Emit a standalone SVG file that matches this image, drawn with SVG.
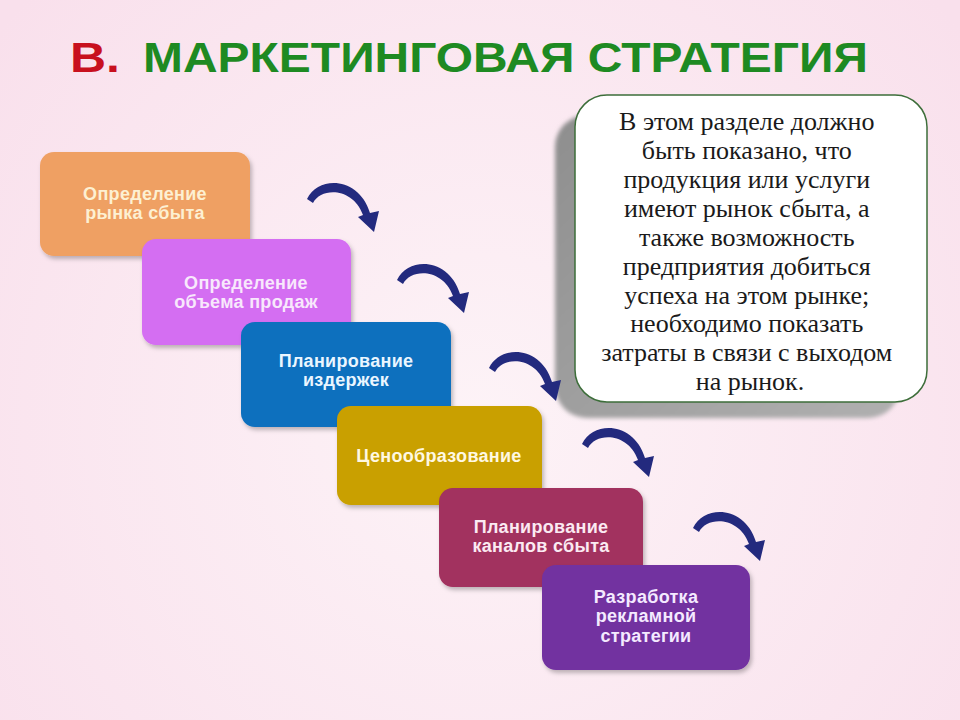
<svg xmlns="http://www.w3.org/2000/svg" width="960" height="720" viewBox="0 0 960 720">
<defs>
<radialGradient id="bg" cx="480" cy="420" r="620" gradientUnits="userSpaceOnUse">
<stop offset="0" stop-color="#fdf3f7"/>
<stop offset="1" stop-color="#f9e0ec"/>
</radialGradient>
<linearGradient id="shadowGrad" x1="0" y1="0" x2="1" y2="1">
<stop offset="0" stop-color="#8e8e8e"/>
<stop offset="1" stop-color="#b0b0b0"/>
</linearGradient>
<filter id="blur" x="-10%" y="-10%" width="120%" height="120%">
<feGaussianBlur stdDeviation="2"/>
</filter>
<filter id="drop" x="-10%" y="-10%" width="125%" height="130%">
<feDropShadow dx="2" dy="3" stdDeviation="2" flood-color="#000" flood-opacity="0.25"/>
</filter>
<path id="arrow" d="M0,0 C12,-24 52,-22 63,14 L72,12 L67,33 L51,18 L56,16 C46,-12 14,-12 6,4 Z"/>
</defs>
<style>
.box{filter:url(#drop);}
.lbl{font-family:"Liberation Sans",Arial,sans-serif;font-weight:bold;font-size:18px;text-anchor:middle;letter-spacing:0.3px;}
.note{font-family:"Liberation Serif","Times New Roman",serif;font-size:26px;text-anchor:middle;fill:#1a1a1a;}
.arr{fill:#232a7e;}
</style>
<rect width="960" height="720" fill="url(#bg)"/>

<g id="title" font-family="'Liberation Sans',Arial,sans-serif" font-weight="bold" font-size="42">
<text x="70" y="72" fill="#c8101e" textLength="50" lengthAdjust="spacingAndGlyphs">В.</text>
<text x="143" y="72" fill="#1e8a22" textLength="725" lengthAdjust="spacingAndGlyphs">МАРКЕТИНГОВАЯ СТРАТЕГИЯ</text>
</g>

<g id="note">
<rect x="555" y="115" width="345" height="303" rx="32" fill="url(#shadowGrad)" filter="url(#blur)"/>
<rect x="575" y="95" width="352" height="307" rx="32" fill="#ffffff" stroke="#3d6e3a" stroke-width="1.5"/>
<text class="note">
<tspan x="750" y="130">В этом разделе должно</tspan>
<tspan x="750" y="159">быть показано, что</tspan>
<tspan x="750" y="188">продукция или услуги</tspan>
<tspan x="750" y="217">имеют рынок сбыта, а</tspan>
<tspan x="750" y="246">также возможность</tspan>
<tspan x="750" y="275">предприятия добиться</tspan>
<tspan x="750" y="304">успеха на этом рынке;</tspan>
<tspan x="750" y="332">необходимо показать</tspan>
<tspan x="750" y="361">затраты в связи с выходом</tspan>
<tspan x="750" y="390">на рынок.</tspan>
</text>
</g>

<g id="step1">
<rect class="box" x="40" y="152" width="210" height="104" rx="14" fill="#efa064"/>
<text class="lbl" fill="#fdf0d2"><tspan x="145" y="200">Определение</tspan><tspan x="145" y="219">рынка сбыта</tspan></text>
</g>
<g id="step2">
<rect class="box" x="142" y="239" width="209" height="106" rx="14" fill="#d46ef2"/>
<text class="lbl" fill="#f8e8fc"><tspan x="246" y="289">Определение</tspan><tspan x="246" y="308">объема продаж</tspan></text>
</g>
<g id="step3">
<rect class="box" x="241" y="322" width="210" height="105" rx="14" fill="#0b6fbe"/>
<text class="lbl" fill="#eaf6ff"><tspan x="346" y="367">Планирование</tspan><tspan x="346" y="386">издержек</tspan></text>
</g>
<g id="step4">
<rect class="box" x="337" y="406" width="205" height="99" rx="14" fill="#c9a004"/>
<text class="lbl" fill="#fff8e2"><tspan x="439" y="462">Ценообразование</tspan></text>
</g>
<g id="step5">
<rect class="box" x="439" y="488" width="204" height="99" rx="14" fill="#a2305e"/>
<text class="lbl" fill="#fbeaf2"><tspan x="541" y="533">Планирование</tspan><tspan x="541" y="552">каналов сбыта</tspan></text>
</g>
<g id="step6">
<rect class="box" x="542" y="565" width="208" height="105" rx="14" fill="#7232a0"/>
<text class="lbl" fill="#f4eaff"><tspan x="646" y="603">Разработка</tspan><tspan x="646" y="622">рекламной</tspan><tspan x="646" y="642">стратегии</tspan></text>
</g>

<g id="connectors" class="arr">
<use href="#arrow" transform="translate(307,199)"/>
<use href="#arrow" transform="translate(397,280)"/>
<use href="#arrow" transform="translate(489,368)"/>
<use href="#arrow" transform="translate(582,444)"/>
<use href="#arrow" transform="translate(693,528)"/>
</g>
</svg>
